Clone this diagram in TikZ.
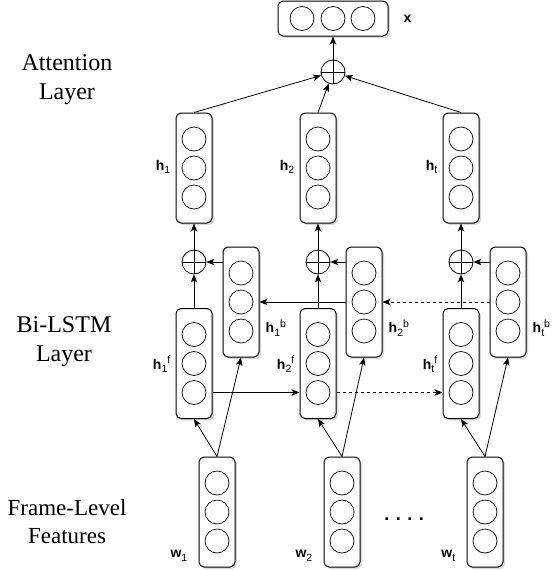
\documentclass[tikz,border=0pt]{standalone}
\usepackage{fontspec}
\setmainfont{Liberation Serif}
\newfontfamily\labfont{Liberation Sans}
\usetikzlibrary{arrows.meta, shadows}
\newcommand{\vlab}[3]{\textbf{#1}\raisebox{-3.5pt}{\fontsize{10.5}{10}\selectfont #2}\raisebox{5.5pt}{\fontsize{10.5}{10}\selectfont #3}}

\begin{document}
\begin{tikzpicture}[x=1pt, y=-1pt,
        cell/.style={draw, line width=1pt, rounded corners=5pt, fill=white, inner sep=0pt,
                minimum width=36pt, minimum height=110pt,
                drop shadow={shadow xshift=2pt, shadow yshift=-2pt, fill=black!30}},
        wide/.style={cell, minimum width=110pt, minimum height=35pt},
        plus/.style={draw, circle, line width=0.8pt, minimum size=24pt, inner sep=0pt},
        arr/.style={-{Stealth[length=8pt, width=6.5pt, inset=2pt]}, line width=0.8pt},
        lab/.style={font=\labfont\fontsize{14}{16}\selectfont, inner sep=0pt},
        side/.style={font=\fontsize{24}{29}\selectfont, align=center}]

        \useasboundingbox (0,0) rectangle (552,571);

        \node[side] (tatt) at (67,80) {Attention\\Layer};
        \node[side] (tlstm) at (64,342) {Bi-LSTM\\Layer};
        \node[side, font=\fontsize{23}{28}\selectfont] (tframe) at (67,522) {Frame-Level\\Features};

        \node[wide] (xout) at (333,18.5) {};
        \node[plus] (opx) at (333,72) {};

        \node[cell] (h1) at (194,168) {};
        \node[cell] (h2) at (318,168) {};
        \node[cell] (ht) at (461,168) {};

        \node[plus] (op1) at (194,262) {};
        \node[plus] (op2) at (318,262) {};
        \node[plus] (opt) at (461,262) {};

        \node[cell] (b1) at (241,302) {};
        \node[cell] (b2) at (364,302) {};
        \node[cell] (bt) at (508,302) {};

        \node[cell] (f1) at (194,363.5) {};
        \node[cell] (f2) at (318,363.5) {};
        \node[cell] (ft) at (461,363.5) {};

        \node[cell] (w1) at (217,512) {};
        \node[cell] (w2) at (342,512) {};
        \node[cell] (wt) at (485,512) {};

        \foreach \d in {-31,0,30}
                \draw[line width=0.7pt] (xout.center) ++(\d,0) circle (12pt);
        \foreach \n in {h1,h2,ht,b1,b2,bt,f1,f2,ft,w1,w2,wt}
                \foreach \d in {-29,0,29}
                        \draw[line width=0.7pt] (\n.center) ++(0,\d) circle (12pt);
        \foreach \n in {opx,op1,op2,opt}
                \draw[line width=0.8pt] (\n.north) -- (\n.south) (\n.west) -- (\n.east);

        \draw[arr] (opx) -- (xout);
        \draw[arr] (h1.north) -- (opx);
        \draw[arr] (h2.north) -- (opx);
        \draw[arr] (ht.north) -- (opx);

        \draw[arr] (op1) -- (h1);
        \draw[arr] (op2) -- (h2);
        \draw[arr] (opt) -- (ht);
        \draw[arr] (f1) -- (op1);
        \draw[arr] (f2) -- (op2);
        \draw[arr] (ft) -- (opt);
        \draw[arr] (b1.west |- op1) -- (op1);
        \draw[arr] (b2.west |- op2) -- (op2);
        \draw[arr] (bt.west |- opt) -- (opt);

        \draw[arr] (b2.west) -- (b1.east);
        \draw[arr, dashed] (bt.west) -- (b2.east);
        \draw[arr] ([yshift=-29pt]f1.east) -- ([yshift=-29pt]f2.west);
        \draw[arr, dashed] ([yshift=-29pt]f2.east) -- ([yshift=-29pt]ft.west);

        \draw[arr] (w1.north) -- (f1.south);
        \draw[arr] (w1.north) -- (b1.south);
        \draw[arr] (w2.north) -- (f2.south);
        \draw[arr] (w2.north) -- (b2.south);
        \draw[arr] (wt.north) -- (ft.south);
        \draw[arr] (wt.north) -- (bt.south);

        \node[lab, anchor=west] (lx) at ([xshift=15pt]xout.east) {\textbf{x}};
        \node[lab, anchor=east] (lh1) at ([xshift=-5pt, yshift=1pt]h1.west) {\vlab{h}{1}{}};
        \node[lab, anchor=east] (lh2) at ([xshift=-5pt, yshift=1pt]h2.west) {\vlab{h}{2}{}};
        \node[lab, anchor=east] (lht) at ([xshift=-5pt, yshift=1pt]ht.west) {\vlab{h}{t}{}};
        \node[lab, anchor=east] (lf1) at ([xshift=-5pt, yshift=-1pt]f1.west) {\vlab{h}{1}{f}};
        \node[lab, anchor=east] (lf2) at ([xshift=-5pt, yshift=-1pt]f2.west) {\vlab{h}{2}{f}};
        \node[lab, anchor=east] (lft) at ([xshift=-5pt, yshift=-1pt]ft.west) {\vlab{h}{t}{f}};
        \node[lab, anchor=west] (lb1) at ([xshift=6pt, yshift=-26pt]b1.east) {\vlab{h}{1}{b}};
        \node[lab, anchor=west] (lb2) at ([xshift=6pt, yshift=-26pt]b2.east) {\vlab{h}{2}{b}};
        \node[lab, anchor=west] (lbt) at ([xshift=6pt, yshift=-26pt]bt.east) {\vlab{h}{t}{b}};
        \node[lab, anchor=east] (lw1) at ([xshift=-11pt, yshift=-44pt]w1.west) {\vlab{w}{1}{}};
        \node[lab, anchor=east] (lw2) at ([xshift=-11pt, yshift=-44pt]w2.west) {\vlab{w}{2}{}};
        \node[lab, anchor=east] (lwt) at ([xshift=-11pt, yshift=-44pt]wt.west) {\vlab{w}{t}{}};
        \node[lab, anchor=base, font=\labfont\bfseries\fontsize{18}{18}\selectfont] (dots) at (404,520)
                {.\hspace{6.5pt}.\hspace{6.5pt}.\hspace{6.5pt}.};

        \end{tikzpicture}
\end{document}
